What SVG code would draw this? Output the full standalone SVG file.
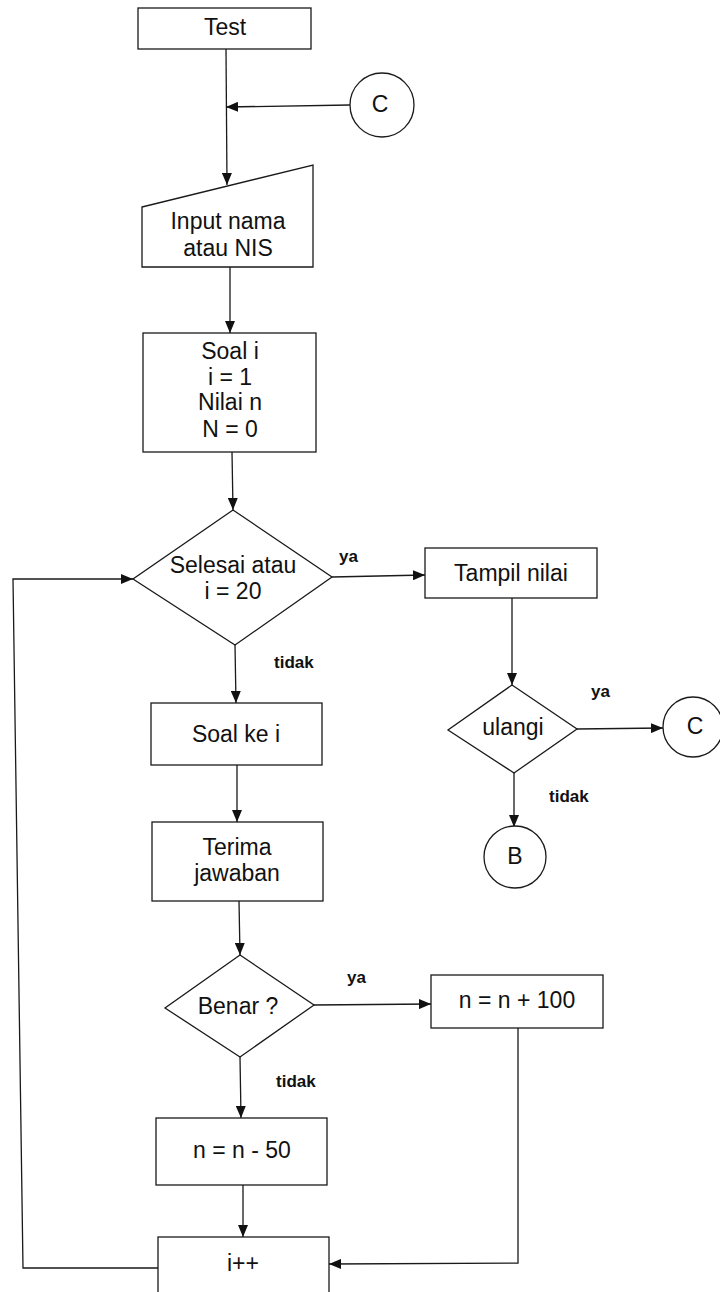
<svg xmlns="http://www.w3.org/2000/svg" width="720" height="1292" viewBox="0 0 720 1292">
  <style>
    .shape { fill: #ffffff; stroke: #1a1a1a; stroke-width: 1.3; }
    .edge { fill: none; stroke: #1a1a1a; stroke-width: 1.3; }
    .txt { font-family: "Liberation Sans", Arial, sans-serif; font-size: 23px; fill: #111; text-anchor: middle; }
    .lbl { font-family: "Liberation Sans", Arial, sans-serif; font-size: 17px; font-weight: bold; fill: #111; }
  </style>
  <defs>
    <marker id="arrow" markerWidth="12" markerHeight="10" refX="12" refY="5" orient="auto" markerUnits="userSpaceOnUse">
      <path d="M0,0 L12,5 L0,10 z" fill="#111"/>
    </marker>
  </defs>
  <rect width="720" height="1292" fill="#ffffff"/>

  <!-- connectors -->
  <g id="connectors">
    <path class="edge" d="M226,49 L227,185" marker-end="url(#arrow)"/>
    <path class="edge" d="M350,105 L226,107" marker-end="url(#arrow)"/>
    <path class="edge" d="M230,267 L230,333" marker-end="url(#arrow)"/>
    <path class="edge" d="M232,452 L233,510" marker-end="url(#arrow)"/>
    <path class="edge" d="M332,577 L425,575" marker-end="url(#arrow)"/>
    <path class="edge" d="M512,598 L512,685" marker-end="url(#arrow)"/>
    <path class="edge" d="M577,729 L663,728" marker-end="url(#arrow)"/>
    <path class="edge" d="M514,773 L514,827" marker-end="url(#arrow)"/>
    <path class="edge" d="M235,645 L236,703" marker-end="url(#arrow)"/>
    <path class="edge" d="M237,765 L237,822" marker-end="url(#arrow)"/>
    <path class="edge" d="M239,901 L240,955" marker-end="url(#arrow)"/>
    <path class="edge" d="M314,1005 L431,1004" marker-end="url(#arrow)"/>
    <path class="edge" d="M240,1057 L241,1118" marker-end="url(#arrow)"/>
    <path class="edge" d="M243,1185 L243,1237" marker-end="url(#arrow)"/>
    <path class="edge" d="M518,1028 L518,1263 L329,1264" marker-end="url(#arrow)"/>
    <path class="edge" d="M158,1268 L23,1268 L13,579 L133,579" marker-end="url(#arrow)"/>
  </g>

  <!-- edge labels -->
  <g id="edge-labels">
    <text class="lbl" x="339" y="562">ya</text>
    <text class="lbl" x="274" y="668">tidak</text>
    <text class="lbl" x="591" y="697">ya</text>
    <text class="lbl" x="549" y="802">tidak</text>
    <text class="lbl" x="347" y="983">ya</text>
    <text class="lbl" x="276" y="1087">tidak</text>
  </g>

  <g id="test">
    <rect class="shape" x="138" y="8" width="173" height="41"/>
    <text class="txt" x="225" y="35">Test</text>
  </g>

  <g id="connector-c-top">
    <circle class="shape" cx="382" cy="105" r="32"/>
    <text class="txt" x="380" y="112">C</text>
  </g>

  <g id="input">
    <polygon class="shape" points="142,207 313,165 313,267 142,267"/>
    <text class="txt" x="228" y="229">Input nama</text>
    <text class="txt" x="228" y="256">atau NIS</text>
  </g>

  <g id="init">
    <rect class="shape" x="143" y="333" width="173" height="119"/>
    <text class="txt" x="230" y="359">Soal i</text>
    <text class="txt" x="230" y="385">i = 1</text>
    <text class="txt" x="230" y="410">Nilai n</text>
    <text class="txt" x="230" y="437">N = 0</text>
  </g>

  <g id="selesai">
    <polygon class="shape" points="233,510 332,577 235,645 133,579"/>
    <text class="txt" x="233" y="573">Selesai atau</text>
    <text class="txt" x="233" y="599">i = 20</text>
  </g>

  <g id="tampil">
    <rect class="shape" x="425" y="548" width="172" height="50"/>
    <text class="txt" x="511" y="581">Tampil nilai</text>
  </g>

  <g id="ulangi">
    <polygon class="shape" points="512,685 577,729 514,773 448,730"/>
    <text class="txt" x="513" y="735">ulangi</text>
  </g>

  <g id="connector-c-right">
    <circle class="shape" cx="693" cy="727" r="30"/>
    <text class="txt" x="695" y="734">C</text>
  </g>

  <g id="connector-b">
    <circle class="shape" cx="515" cy="857" r="31"/>
    <text class="txt" x="515" y="864">B</text>
  </g>

  <g id="soal-ke-i">
    <rect class="shape" x="151" y="703" width="171" height="62"/>
    <text class="txt" x="236" y="742">Soal ke i</text>
  </g>

  <g id="terima">
    <rect class="shape" x="152" y="822" width="171" height="79"/>
    <text class="txt" x="237" y="855">Terima</text>
    <text class="txt" x="237" y="881">jawaban</text>
  </g>

  <g id="benar">
    <polygon class="shape" points="240,955 314,1005 240,1057 165,1008"/>
    <text class="txt" x="238" y="1014">Benar ?</text>
  </g>

  <g id="plus">
    <rect class="shape" x="431" y="975" width="172" height="53"/>
    <text class="txt" x="517" y="1008">n = n + 100</text>
  </g>

  <g id="minus">
    <rect class="shape" x="156" y="1118" width="171" height="67"/>
    <text class="txt" x="242" y="1158">n = n - 50</text>
  </g>

  <g id="increment">
    <rect class="shape" x="158" y="1237" width="171" height="70"/>
    <text class="txt" x="243" y="1271">i++</text>
  </g>
</svg>
